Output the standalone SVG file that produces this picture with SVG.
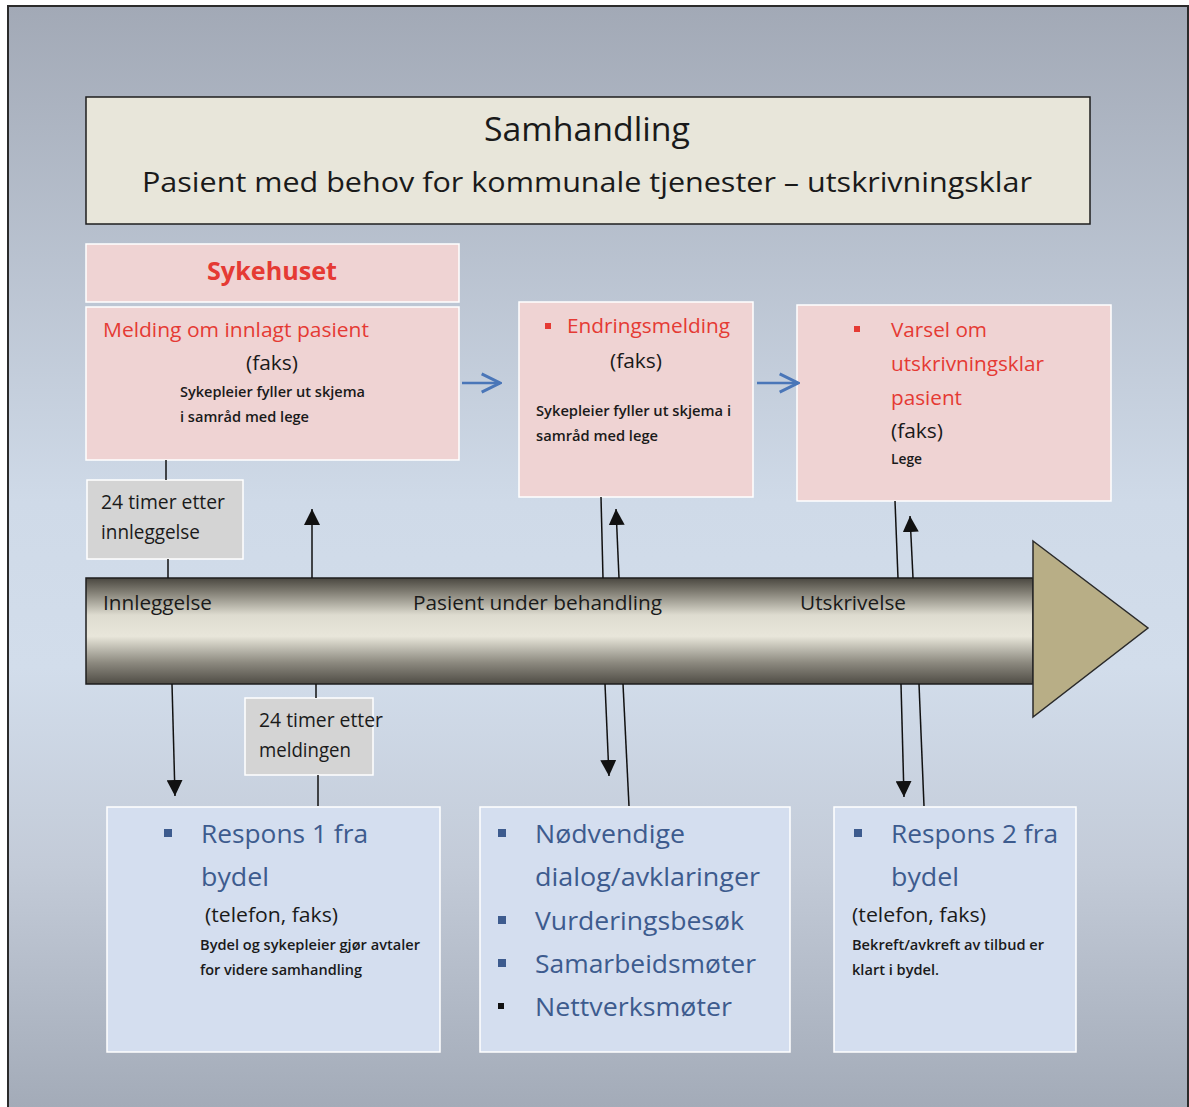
<svg xmlns="http://www.w3.org/2000/svg" width="1189" height="1107" viewBox="0 0 1189 1107">
  <defs>
    <linearGradient id="bg" x1="0" y1="0" x2="0" y2="1">
      <stop offset="0" stop-color="#a2a9b6"/>
      <stop offset="0.45" stop-color="#cfdae8"/>
      <stop offset="0.6" stop-color="#d2ddeb"/>
      <stop offset="0.78" stop-color="#c3cbd8"/>
      <stop offset="1" stop-color="#a3abb8"/>
    </linearGradient>
    <linearGradient id="shaft" x1="0" y1="0" x2="0" y2="1">
      <stop offset="0" stop-color="#4a4740"/>
      <stop offset="0.12" stop-color="#7c796f"/>
      <stop offset="0.35" stop-color="#dedcd0"/>
      <stop offset="0.55" stop-color="#e8e6da"/>
      <stop offset="0.8" stop-color="#8c897f"/>
      <stop offset="1" stop-color="#4f4c45"/>
    </linearGradient>
    <marker id="tri" viewBox="0 0 10 10" refX="10" refY="5" markerWidth="16" markerHeight="16" markerUnits="userSpaceOnUse" orient="auto">
      <path d="M0,0 L10,5 L0,10 Z" fill="#111"/>
    </marker>
    <marker id="chev" viewBox="0 0 12 12" refX="11" refY="6" markerWidth="22" markerHeight="22" markerUnits="userSpaceOnUse" orient="auto">
      <path d="M1,1 L11,6 L1,11" fill="none" stroke="#4a76b8" stroke-width="1.6"/>
    </marker>
  </defs>
  <style>
    text { font-family: "Open Sans", "Noto Sans", "Liberation Sans", sans-serif; }
    .pink { fill: #efd3d3; stroke: #ffffff; stroke-width: 1.5; }
    .grey { fill: #d4d4d4; stroke: #ffffff; stroke-width: 1.5; }
    .blue { fill: #d4deef; stroke: #ffffff; stroke-width: 1.5; }
    .red { fill: #e53a34; }
    .dark { fill: #1a1a1a; }
    .navy { fill: #3d5b8e; }
    .bold { font-weight: 700; }
    .small { font-size: 13.5px; font-weight: 600; }
    .mid { font-size: 20px; }
    .lg { font-size: 26px; }
    .conn { stroke: #111; stroke-width: 1.5; fill: none; }
  </style>

  <!-- page background -->
  <rect x="0" y="0" width="1189" height="1107" fill="#ffffff"/>
  <rect x="8" y="6" width="1180" height="1102" fill="url(#bg)" stroke="#2b2b2b" stroke-width="2"/>

  <!-- title -->
  <g id="title">
    <rect x="86" y="97" width="1004" height="127" fill="#e8e6da" stroke="#1e1e1e" stroke-width="1.5"/>
    <text x="484" y="141" font-size="32" class="dark" textLength="206" lengthAdjust="spacingAndGlyphs">Samhandling</text>
    <text x="142" y="192" font-size="28" class="dark" textLength="890" lengthAdjust="spacingAndGlyphs">Pasient med behov for kommunale tjenester – utskrivningsklar</text>
  </g>

  <!-- hospital column -->
  <g id="sykehuset">
    <rect class="pink" x="86" y="244" width="373" height="58"/>
    <text x="207" y="280" font-size="25" class="red bold" textLength="130" lengthAdjust="spacingAndGlyphs">Sykehuset</text>
  </g>
  <g id="melding">
    <rect class="pink" x="86" y="307" width="373" height="153"/>
    <text x="103" y="337" class="red mid" textLength="266" lengthAdjust="spacingAndGlyphs">Melding om innlagt pasient</text>
    <text x="246" y="370" class="dark mid" textLength="52" lengthAdjust="spacingAndGlyphs">(faks)</text>
    <text x="180" y="397" class="dark small" textLength="185" lengthAdjust="spacingAndGlyphs">Sykepleier fyller ut skjema</text>
    <text x="180" y="422" class="dark small" textLength="129" lengthAdjust="spacingAndGlyphs">i samråd med lege</text>
  </g>
  <g id="endringsmelding">
    <rect class="pink" x="519" y="302" width="234" height="195"/>
    <rect x="545" y="323" width="6" height="6" fill="#e53a34"/>
    <text x="567" y="333" class="red mid" textLength="163" lengthAdjust="spacingAndGlyphs">Endringsmelding</text>
    <text x="610" y="368" class="dark mid" textLength="52" lengthAdjust="spacingAndGlyphs">(faks)</text>
    <text x="536" y="416" class="dark small" textLength="195" lengthAdjust="spacingAndGlyphs">Sykepleier fyller ut skjema i</text>
    <text x="536" y="441" class="dark small" textLength="122" lengthAdjust="spacingAndGlyphs">samråd med lege</text>
  </g>
  <g id="varsel">
    <rect class="pink" x="797" y="305" width="314" height="196"/>
    <rect x="854" y="326" width="6" height="6" fill="#e53a34"/>
    <text x="891" y="337" class="red mid" textLength="96" lengthAdjust="spacingAndGlyphs">Varsel om</text>
    <text x="891" y="371" class="red mid" textLength="153" lengthAdjust="spacingAndGlyphs">utskrivningsklar</text>
    <text x="891" y="405" class="red mid" textLength="71" lengthAdjust="spacingAndGlyphs">pasient</text>
    <text x="891" y="438" class="dark mid" textLength="52" lengthAdjust="spacingAndGlyphs">(faks)</text>
    <text x="891" y="464" class="dark small" textLength="31" lengthAdjust="spacingAndGlyphs">Lege</text>
  </g>

  <!-- time axis -->
  <g id="tidslinje">
    <rect x="86" y="578" width="947" height="106" fill="url(#shaft)" stroke="#1e1e1e" stroke-width="1.5"/>
    <path d="M1033,541 L1148,628 L1033,717 Z" fill="#b8ae86" stroke="#2a2a2a" stroke-width="1.5"/>
    <text x="103" y="610" class="dark mid" textLength="109" lengthAdjust="spacingAndGlyphs">Innleggelse</text>
    <text x="413" y="610" class="dark mid" textLength="249" lengthAdjust="spacingAndGlyphs">Pasient under behandling</text>
    <text x="800" y="610" class="dark mid" textLength="106" lengthAdjust="spacingAndGlyphs">Utskrivelse</text>
  </g>

  <!-- time notes -->
  <g id="frist-innleggelse">
    <rect class="grey" x="87" y="480" width="156" height="79"/>
    <text x="101" y="509" class="dark mid" textLength="124" lengthAdjust="spacingAndGlyphs">24 timer etter</text>
    <text x="101" y="539" class="dark mid" textLength="99" lengthAdjust="spacingAndGlyphs">innleggelse</text>
  </g>
  <g id="frist-meldingen">
    <rect class="grey" x="245" y="698" width="128" height="77"/>
    <text x="259" y="727" class="dark mid" textLength="124" lengthAdjust="spacingAndGlyphs">24 timer etter</text>
    <text x="259" y="757" class="dark mid" textLength="92" lengthAdjust="spacingAndGlyphs">meldingen</text>
  </g>

  <!-- district responses -->
  <g id="respons1">
    <rect class="blue" x="107" y="807" width="333" height="245"/>
    <rect x="164" y="829" width="8" height="8" fill="#3d5b8e"/>
    <text x="201" y="843" class="navy lg" textLength="167" lengthAdjust="spacingAndGlyphs">Respons 1 fra</text>
    <text x="201" y="886" class="navy lg" textLength="68" lengthAdjust="spacingAndGlyphs">bydel</text>
    <text x="205" y="922" class="dark mid" textLength="133" lengthAdjust="spacingAndGlyphs">(telefon, faks)</text>
    <text x="200" y="950" class="dark small" textLength="220" lengthAdjust="spacingAndGlyphs">Bydel og sykepleier gjør avtaler</text>
    <text x="200" y="975" class="dark small" textLength="162" lengthAdjust="spacingAndGlyphs">for videre samhandling</text>
  </g>
  <g id="dialog">
    <rect class="blue" x="480" y="807" width="310" height="245"/>
    <rect x="498" y="829" width="8" height="8" fill="#3d5b8e"/>
    <text x="535" y="843" class="navy lg" textLength="150" lengthAdjust="spacingAndGlyphs">Nødvendige</text>
    <text x="535" y="886" class="navy lg" textLength="225" lengthAdjust="spacingAndGlyphs">dialog/avklaringer</text>
    <rect x="498" y="916" width="8" height="8" fill="#3d5b8e"/>
    <text x="535" y="930" class="navy lg" textLength="209" lengthAdjust="spacingAndGlyphs">Vurderingsbesøk</text>
    <rect x="498" y="959" width="8" height="8" fill="#3d5b8e"/>
    <text x="535" y="973" class="navy lg" textLength="221" lengthAdjust="spacingAndGlyphs">Samarbeidsmøter</text>
    <rect x="498" y="1003" width="6" height="6" fill="#111"/>
    <text x="535" y="1016" class="navy lg" textLength="197" lengthAdjust="spacingAndGlyphs">Nettverksmøter</text>
  </g>
  <g id="respons2">
    <rect class="blue" x="834" y="807" width="242" height="245"/>
    <rect x="854" y="829" width="8" height="8" fill="#3d5b8e"/>
    <text x="891" y="843" class="navy lg" textLength="167" lengthAdjust="spacingAndGlyphs">Respons 2 fra</text>
    <text x="891" y="886" class="navy lg" textLength="68" lengthAdjust="spacingAndGlyphs">bydel</text>
    <text x="852" y="922" class="dark mid" textLength="134" lengthAdjust="spacingAndGlyphs">(telefon, faks)</text>
    <text x="852" y="950" class="dark small" textLength="192" lengthAdjust="spacingAndGlyphs">Bekreft/avkreft av tilbud er</text>
    <text x="852" y="975" class="dark small" textLength="87" lengthAdjust="spacingAndGlyphs">klart i bydel.</text>
  </g>

  <!-- connectors -->
  <g id="connectors">
    <line x1="462" y1="383" x2="500" y2="383" stroke="#4a76b8" stroke-width="2.5" marker-end="url(#chev)"/>
    <line x1="757" y1="383" x2="798" y2="383" stroke="#4a76b8" stroke-width="2.5" marker-end="url(#chev)"/>

    <line class="conn" x1="166" y1="460" x2="166" y2="480"/>
    <line class="conn" x1="168" y1="559" x2="168" y2="578"/>
    <line class="conn" x1="172" y1="684" x2="175" y2="796" marker-end="url(#tri)"/>
    <line class="conn" x1="312" y1="578" x2="312" y2="509" marker-end="url(#tri)"/>
    <line class="conn" x1="316" y1="684" x2="316" y2="698"/>
    <line class="conn" x1="318" y1="775" x2="318" y2="806"/>

    <line class="conn" x1="601" y1="497" x2="603" y2="578"/>
    <line class="conn" x1="619" y1="578" x2="616" y2="509" marker-end="url(#tri)"/>
    <line class="conn" x1="605" y1="684" x2="609" y2="776" marker-end="url(#tri)"/>
    <line class="conn" x1="623" y1="684" x2="629" y2="806"/>

    <line class="conn" x1="895" y1="501" x2="898" y2="578"/>
    <line class="conn" x1="913" y1="578" x2="910" y2="516" marker-end="url(#tri)"/>
    <line class="conn" x1="901" y1="684" x2="904" y2="797" marker-end="url(#tri)"/>
    <line class="conn" x1="919" y1="684" x2="924" y2="806"/>
  </g>
</svg>
